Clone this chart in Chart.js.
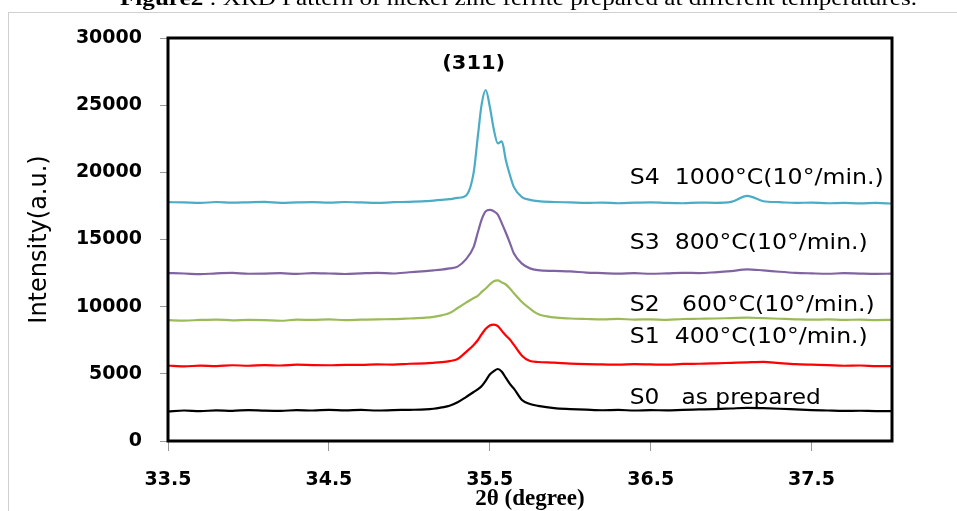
<!DOCTYPE html>
<html>
<head>
<meta charset="utf-8">
<script src="https://cdn.jsdelivr.net/npm/chart.js@4.4.0/dist/chart.umd.min.js"></script>
<style>
  html, body { margin: 0; padding: 0; background: #fff; }
  #wrap { width: 957px; height: 511px; position: relative; }
</style>
</head>
<body>
<div id="wrap"><canvas id="xrdChart"></canvas></div>
<script>
// 2theta grid (finer around the (311) peak)
const twoTheta = [33.5, 33.6, 33.7, 33.8, 33.9, 34.0, 34.1, 34.2, 34.3, 34.4, 34.5, 34.6, 34.7, 34.8, 34.9, 35.0,
  35.1, 35.15, 35.2, 35.25, 35.3, 35.35, 35.4, 35.425, 35.45, 35.475, 35.5, 35.525, 35.55, 35.575, 35.6, 35.625, 35.65, 35.7, 35.75, 35.8, 35.9,
  36.0, 36.1, 36.2, 36.3, 36.4, 36.5, 36.6, 36.7, 36.8, 36.9, 37.0, 37.1, 37.2, 37.3, 37.4, 37.5, 37.6, 37.7, 37.8, 37.9, 38.0];

const s4 = [17780, 17760, 17720, 17790, 17740, 17770, 17800, 17730, 17760, 17780, 17740, 17790, 17760, 17720, 17780, 17800,
  17850, 17900, 17950, 18000, 18100, 18250, 20000, 22600, 25100, 26130, 24900, 23200, 22150, 22300, 20900, 19800, 18900, 18150, 17950, 17850, 17790,
  17760, 17720, 17750, 17700, 17740, 17760, 17720, 17700, 17750, 17730, 17800, 18250, 17850, 17780, 17720, 17750, 17700, 17730, 17690, 17720, 17680];

const s3 = [12500, 12470, 12420, 12480, 12510, 12450, 12460, 12490, 12440, 12500, 12470, 12430, 12480, 12520, 12470, 12560,
  12650, 12700, 12760, 12850, 12980, 13500, 14450, 15500, 16500, 17100, 17200, 17100, 16850, 16200, 15500, 14750, 13950, 13200, 12850, 12720, 12660,
  12620, 12540, 12500, 12460, 12490, 12450, 12480, 12520, 12500, 12560, 12650, 12780, 12700, 12600, 12520, 12480, 12450, 12490, 12460, 12440, 12460];

const s2 = [9000, 8960, 9010, 9040, 8980, 9020, 9000, 8950, 9030, 9010, 9050, 9000, 9030, 9060, 9070, 9120,
  9180, 9240, 9350, 9520, 9900, 10280, 10650, 10800, 11100, 11350, 11650, 11900, 11950, 11800, 11650, 11350, 11000, 10350, 9850, 9450, 9200,
  9120, 9080, 9050, 9090, 9040, 9060, 9020, 9080, 9100, 9120, 9150, 9180, 9140, 9100, 9060, 9030, 9050, 9010, 9040, 9000, 9020];

const s1 = [5620, 5560, 5610, 5580, 5640, 5600, 5650, 5620, 5680, 5650, 5640, 5670, 5660, 5700, 5690, 5750,
  5780, 5820, 5870, 5950, 6100, 6600, 7150, 7500, 7950, 8350, 8600, 8660, 8550, 8200, 7850, 7550, 7150, 6350, 5950, 5880, 5830,
  5760, 5720, 5700, 5680, 5720, 5700, 5680, 5740, 5750, 5780, 5820, 5860, 5890, 5800, 5720, 5680, 5650, 5600, 5620, 5580, 5570];

const s0 = [2200, 2270, 2220, 2280, 2250, 2300, 2260, 2240, 2300, 2270, 2320, 2280, 2310, 2270, 2300, 2320,
  2350, 2400, 2500, 2620, 2880, 3250, 3650, 3850, 4100, 4500, 4950, 5200, 5360, 5150, 4700, 4250, 3900, 3050, 2750, 2620, 2450,
  2380, 2330, 2290, 2310, 2270, 2300, 2280, 2320, 2350, 2380, 2420, 2460, 2440, 2400, 2350, 2300, 2270, 2240, 2250, 2230, 2230];

const seriesNames = ['S4', 'S3', 'S2', 'S1', 'S0'];
const seriesColors = ['#4BACC6', '#8064A2', '#9BBB59', '#FF0000', '#000000'];
const seriesData = [s4, s3, s2, s1, s0];

const xTicks = [33.5, 34.5, 35.5, 36.5, 37.5];
const yTicks = [0, 5000, 10000, 15000, 20000, 25000, 30000];

// text notes inside the plot, anchored in data units
const noteTexts = ['(311)', 'S4  1000°C(10°/min.)', 'S3  800°C(10°/min.)', 'S2   600°C(10°/min.)', 'S1  400°C(10°/min.)', 'S0   as prepared'];
const noteX = [35.4, 36.37, 36.37, 36.37, 36.37, 36.37];
const noteY = [28100, 19540, 14740, 10124, 7705, 3200];
const noteW = [63, 254, 238, 245, 238, 191];

function drawFitted(ctx, text, x, y, width, font, align) {
  ctx.save();
  ctx.font = font;
  const k = width / ctx.measureText(text).width;
  ctx.translate(x, y);
  ctx.scale(k, 1);
  ctx.textAlign = align;
  ctx.textBaseline = 'middle';
  ctx.fillStyle = '#000';
  ctx.fillText(text, 0, 0);
  ctx.restore();
}

const decorPlugin = {
  id: 'decor',
  beforeDraw(chart) {
    const ctx = chart.ctx;
    ctx.save();
    ctx.fillStyle = '#fff';
    ctx.fillRect(0, 0, chart.width, chart.height);
    ctx.strokeStyle = '#d0d0d0';
    ctx.lineWidth = 1;
    ctx.strokeRect(8.5, 12.5, chart.width, chart.height);
    // caption, cut at the top edge
    const bold = 'bold 21px "Liberation Serif"';
    const reg = '21px "Liberation Serif"';
    const a = 'Figure2', b = ' : XRD Pattern of nickel zinc ferrite prepared at different temperatures.';
    ctx.font = bold; const wa = ctx.measureText(a).width;
    ctx.font = reg; const wb = ctx.measureText(b).width;
    const k = 797 / (wa + wb);
    ctx.translate(120, 5);
    ctx.scale(k, 1);
    ctx.fillStyle = '#000';
    ctx.textBaseline = 'alphabetic';
    ctx.font = bold; ctx.fillText(a, 0, 0);
    ctx.font = reg; ctx.fillText(b, wa, 0);
    ctx.restore();
  },
  afterDatasetsDraw(chart) {
    const {ctx, chartArea: ca, scales: {x, y}} = chart;
    ctx.save();
    ctx.strokeStyle = '#000';
    ctx.lineWidth = 3;
    ctx.strokeRect(ca.left, ca.top, ca.right - ca.left, ca.bottom - ca.top);
    ctx.restore();
    noteTexts.forEach((t, i) => {
      const font = i === 0 ? 'bold 20px "DejaVu Sans"' : '22px "DejaVu Sans"';
      drawFitted(ctx, t, x.getPixelForValue(noteX[i]), y.getPixelForValue(noteY[i]), noteW[i], font, i === 0 ? 'center' : 'left');
    });
  }
};

new Chart(document.getElementById('xrdChart'), {
  type: 'line',
  data: {
    datasets: seriesNames.map((n, i) => ({
      label: n,
      data: twoTheta.map((t, j) => ({x: t, y: seriesData[i][j]})),
      borderColor: seriesColors[i],
      borderWidth: 2.2,
      pointRadius: 0,
      cubicInterpolationMode: 'monotone',
      fill: false
    }))
  },
  options: {
    responsive: true,
    maintainAspectRatio: false,
    animation: false,
    layout: { padding: { top: 38, right: 65, left: 0, bottom: 0 } },
    plugins: { legend: { display: false }, tooltip: { enabled: false } },
    scales: {
      x: {
        type: 'linear', min: 33.5, max: 38,
        afterBuildTicks: s => { s.ticks = xTicks.map(v => ({value: v})); },
        afterFit: s => { s.height = 70; },
        grid: { drawOnChartArea: false, drawTicks: true, tickLength: 10, color: '#999' },
        border: { display: false },
        ticks: {
          autoSkip: false, maxRotation: 0, padding: 18, color: '#000',
          font: { family: 'DejaVu Sans', weight: 'bold', size: 19 },
          callback: v => v.toFixed(1)
        },
        title: {
          display: true, text: '2θ (degree)', color: '#000', padding: 0,
          font: { family: 'Liberation Serif', weight: 'bold', size: 23, lineHeight: 1 }
        }
      },
      y: {
        min: 0, max: 30000,
        afterBuildTicks: s => { s.ticks = yTicks.map(v => ({value: v})); },
        afterFit: s => { s.width = 168; },
        grid: { drawOnChartArea: false, drawTicks: true, tickLength: 8, color: '#999' },
        border: { display: false },
        ticks: {
          padding: 18, color: '#000',
          font: { family: 'DejaVu Sans', weight: 'bold', size: 19 },
          callback: v => String(v)
        },
        title: {
          display: true, text: 'Intensity(a.u.)', color: '#000', padding: { top: 28, bottom: 0 },
          font: { family: 'DejaVu Sans', size: 24, lineHeight: 1 }
        }
      }
    }
  },
  plugins: [decorPlugin]
});
</script>
</body>
</html>
